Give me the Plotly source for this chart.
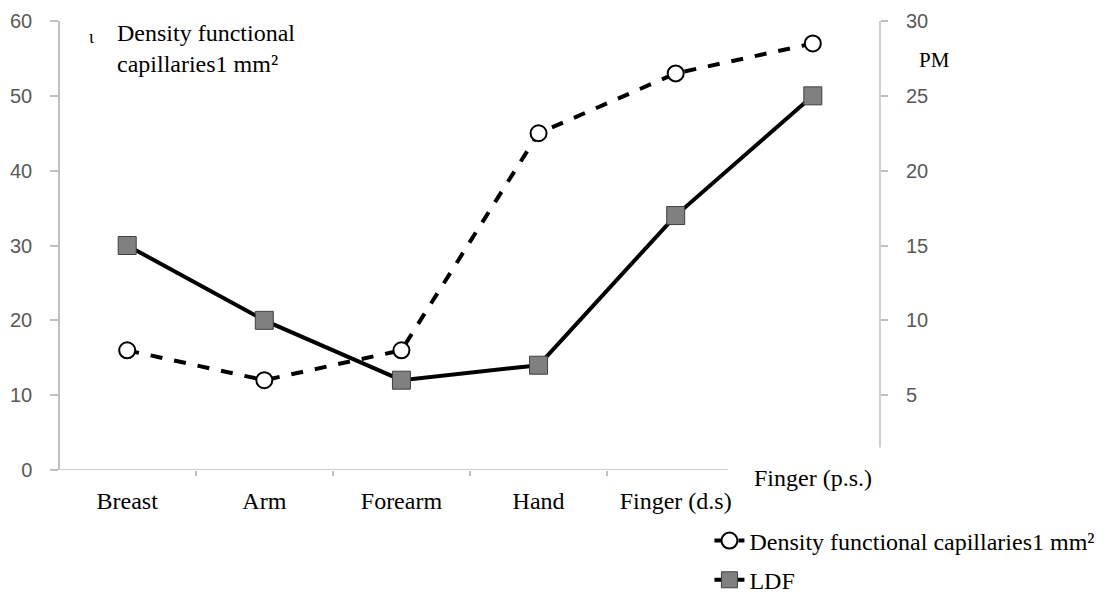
import plotly.graph_objects as go

categories = ["Breast", "Arm", "Forearm", "Hand", "Finger (d.s)", "Finger (p.s.)"]
density = [16, 12, 16, 45, 53, 57]
ldf = [15, 10, 6, 7, 17, 25]
left_ticks = [0, 10, 20, 30, 40, 50, 60]
right_ticks = [5, 10, 15, 20, 25, 30]
density_name = "Density functional capillaries1 mm²"
ldf_name = "LDF"

xs = list(range(len(categories)))
SERIF = "Liberation Serif"
SANS = "Liberation Sans"
GRID = "#bfbfbf"
TICKC = "#595959"
FS = 24

fig = go.Figure()
fig.add_trace(go.Scatter(
    x=xs, y=density, name=density_name, yaxis="y", mode="lines+markers",
    line=dict(color="black", width=4, dash="dash"),
    marker=dict(symbol="circle", size=16, color="white", line=dict(color="black", width=2)),
    legendgroup="a",
))
fig.add_trace(go.Scatter(
    x=xs, y=ldf, name=ldf_name, yaxis="y2", mode="lines+markers",
    line=dict(color="black", width=4, dash="solid"),
    marker=dict(symbol="square", size=18, color="#808080", line=dict(color="#404040", width=1)),
    legendgroup="b",
))

fig.update_layout(
    width=1105, height=594,
    margin=dict(l=60, r=225, t=21, b=124, autoexpand=False),
    paper_bgcolor="white", plot_bgcolor="white",
    showlegend=True,
    legend=dict(
        x=0.792, y=-0.108, xanchor="left", yanchor="top",
        font=dict(family=SERIF, size=FS, color="black"),
        tracegroupgap=5, bgcolor="rgba(0,0,0,0)",
    ),
    xaxis=dict(
        range=[-0.49, 5.49], showgrid=False, zeroline=False, showline=False,
        automargin=False,
        tickvals=xs[:5], ticktext=categories[:5], ticks="",
        tickfont=dict(family=SERIF, size=FS, color="black"),
        ticklabelstandoff=14,
        minor=dict(tickvals=[0.5, 1.5, 2.5, 3.5], ticks="outside", ticklen=5,
                   tickcolor=GRID, tickwidth=1.5),
    ),
    yaxis=dict(
        range=[0, 60], tickvals=left_ticks, showgrid=False, zeroline=False,
        automargin=False,
        showline=True, linecolor=GRID, linewidth=1.5,
        ticks="outside", ticklen=8, tickcolor=GRID, tickwidth=1.5,
        tickfont=dict(family=SANS, size=20, color=TICKC),
        ticklabelstandoff=14,
    ),
    yaxis2=dict(
        range=[0, 30], tickvals=right_ticks, overlaying="y", side="right", anchor="x",
        automargin=False,
        showgrid=False, zeroline=False, showline=False,
        ticks="outside", ticklen=7, tickcolor=GRID, tickwidth=1.5,
        tickfont=dict(family=SANS, size=20, color=TICKC),
        ticklabelstandoff=14,
    ),
)

# axis lines
fig.add_shape(type="line", xref="x", yref="y", x0=-0.49, x1=4.38, y0=0, y1=0,
              line=dict(color=GRID, width=1.5))
fig.add_shape(type="line", xref="paper", yref="y2", x0=1, x1=1, y0=1.5, y1=30,
              line=dict(color=GRID, width=1.5))

# last category label placed above the others
fig.add_annotation(x=xs[5], y=0, xref="x", yref="y", text=categories[5], showarrow=False,
                   yshift=-8, yanchor="middle",
                   font=dict(family=SERIF, size=FS, color="black"))
# titles
fig.add_annotation(xref="paper", yref="paper", x=(115 - 60) / 820, y=(470 - 18) / 449,
                   xanchor="left", yanchor="top", align="left", showarrow=False,
                   text="Density functional<br>capillaries1 mm²",
                   font=dict(family=SERIF, size=FS, color="black"))
fig.add_annotation(xref="paper", yref="paper", x=(91 - 60) / 820, y=(470 - 37) / 449,
                   xanchor="center", yanchor="middle", showarrow=False,
                   text="ι", font=dict(family=SERIF, size=18, color="black"))
fig.add_annotation(xref="paper", yref="paper", x=(917 - 60) / 820, y=(470 - 60) / 449,
                   xanchor="left", yanchor="middle", showarrow=False,
                   text="PM", font=dict(family=SERIF, size=21, color="black"))

fig.write_html("out.html", config={"displayModeBar": False},
               post_script="document.body.style.margin='0';")
